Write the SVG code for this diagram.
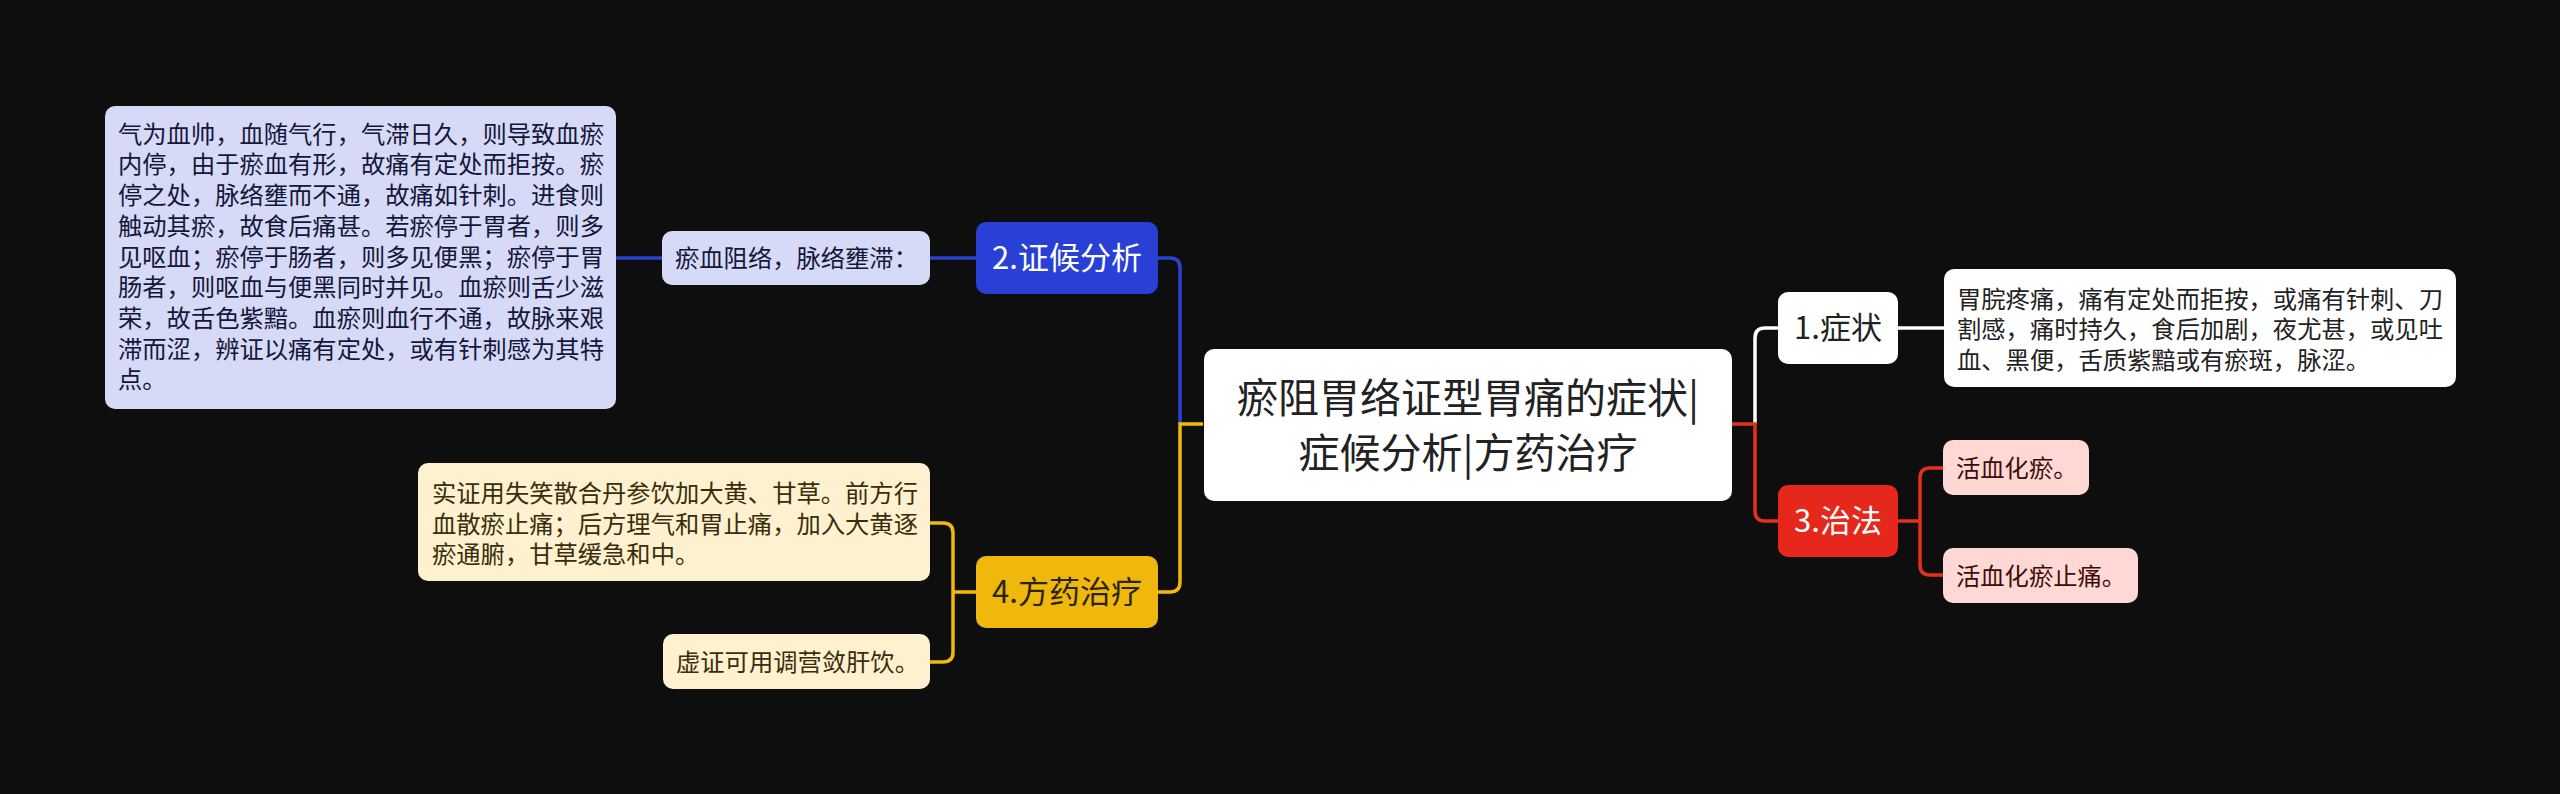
<svg xmlns="http://www.w3.org/2000/svg" width="2560" height="794" viewBox="0 0 2560 794">
<style>
text{font-family:"Noto Sans CJK SC","Noto Sans",sans-serif;}
.sm{font-size:24.3px;}
.mid{font-size:31px;}
.big{font-size:41px;}
.ln{fill:none;stroke-width:3.5;}
.blue{stroke:#2a43d0;}
.yel{stroke:#f0b90b;}
.wht{stroke:#ffffff;}
.red{stroke:#e3301f;}
</style>
<rect x="0" y="0" width="2560" height="794" fill="#0e0e0e"/>
<g id="connectors">
<path class="ln blue" d="M616,258 H662"/>
<path class="ln blue" d="M930,258 H976"/>
<path class="ln blue" d="M1180,424 V268 Q1180,258 1170,258 H1158"/>
<path class="ln yel" d="M1203,424 H1180 V582 Q1180,592 1170,592 H1158"/>
<path class="ln yel" d="M976,592 H953"/>
<path class="ln yel" d="M930,523 H943 Q953,523 953,533 V652 Q953,662 943,662 H930"/>
<path class="ln wht" d="M1755,424 V338 Q1755,328 1765,328 H1778"/>
<path class="ln wht" d="M1898,328 H1944"/>
<path class="ln red" d="M1732,424 H1755 V511 Q1755,521 1765,521 H1778"/>
<path class="ln red" d="M1898,521 H1920"/>
<path class="ln red" d="M1943,468 H1930 Q1920,468 1920,478 V565 Q1920,575 1930,575 H1943"/>
</g>
<g id="root">
<rect x="1204" y="349" width="528" height="152" rx="10" fill="#ffffff"/>
<text class="big" x="1468" y="413" text-anchor="middle" fill="#222222">瘀阻胃络证型胃痛的症状|</text>
<text class="big" x="1468" y="468" text-anchor="middle" fill="#222222">症候分析|方药治疗</text>
</g>
<g id="n2">
<rect x="976" y="222" width="182" height="72" rx="10" fill="#2840d6"/>
<text class="mid" x="1067" y="269" text-anchor="middle" fill="#ffffff">2.证候分析</text>
</g>
<g id="n2a">
<rect x="662" y="231" width="268" height="54" rx="10" fill="#d6daf6"/>
<text class="sm" x="675" y="267" fill="#14163a">瘀血阻络，脉络壅滞：</text>
</g>
<g id="n2b">
<rect x="105" y="106" width="511" height="303" rx="10" fill="#d6daf6"/>
<g class="sm" fill="#14163a">
<text x="118" y="142.7">气为血帅，血随气行，气滞日久，则导致血瘀</text>
<text x="118" y="173.4">内停，由于瘀血有形，故痛有定处而拒按。瘀</text>
<text x="118" y="204.1">停之处，脉络壅而不通，故痛如针刺。进食则</text>
<text x="118" y="234.8">触动其瘀，故食后痛甚。若瘀停于胃者，则多</text>
<text x="118" y="265.5">见呕血；瘀停于肠者，则多见便黑；瘀停于胃</text>
<text x="118" y="296.2">肠者，则呕血与便黑同时并见。血瘀则舌少滋</text>
<text x="118" y="326.9">荣，故舌色紫黯。血瘀则血行不通，故脉来艰</text>
<text x="118" y="357.6">滞而涩，辨证以痛有定处，或有针刺感为其特</text>
<text x="118" y="388.3">点。</text>
</g>
</g>
<g id="n4">
<rect x="976" y="556" width="182" height="72" rx="10" fill="#f0b70c"/>
<text class="mid" x="1067" y="603" text-anchor="middle" fill="#2b2510">4.方药治疗</text>
</g>
<g id="n4a">
<rect x="418" y="463" width="512" height="118" rx="10" fill="#fdf1cf"/>
<g class="sm" fill="#3a2d0a">
<text x="432" y="502">实证用失笑散合丹参饮加大黄、甘草。前方行</text>
<text x="432" y="532.7">血散瘀止痛；后方理气和胃止痛，加入大黄逐</text>
<text x="432" y="563.4">瘀通腑，甘草缓急和中。</text>
</g>
</g>
<g id="n4b">
<rect x="663" y="634" width="267" height="55" rx="10" fill="#fdf1cf"/>
<text class="sm" x="676" y="671" fill="#3a2d0a">虚证可用调营敛肝饮。</text>
</g>
<g id="n1">
<rect x="1778" y="292" width="120" height="72" rx="10" fill="#ffffff"/>
<text class="mid" x="1838" y="339" text-anchor="middle" fill="#222222">1.症状</text>
</g>
<g id="n1a">
<rect x="1944" y="269" width="512" height="118" rx="10" fill="#ffffff"/>
<g class="sm" fill="#222222">
<text x="1957" y="307.5">胃脘疼痛，痛有定处而拒按，或痛有针刺、刀</text>
<text x="1957" y="338.2">割感，痛时持久，食后加剧，夜尤甚，或见吐</text>
<text x="1957" y="368.9">血、黑便，舌质紫黯或有瘀斑，脉涩。</text>
</g>
</g>
<g id="n3">
<rect x="1778" y="485" width="120" height="72" rx="10" fill="#e5281b"/>
<text class="mid" x="1838" y="532" text-anchor="middle" fill="#ffffff">3.治法</text>
</g>
<g id="n3a">
<rect x="1943" y="440" width="146" height="55" rx="10" fill="#fdd8d5"/>
<text class="sm" x="1956" y="477" fill="#3d0c08">活血化瘀。</text>
</g>
<g id="n3b">
<rect x="1943" y="548" width="195" height="55" rx="10" fill="#fdd8d5"/>
<text class="sm" x="1956" y="585" fill="#3d0c08">活血化瘀止痛。</text>
</g>
</svg>
